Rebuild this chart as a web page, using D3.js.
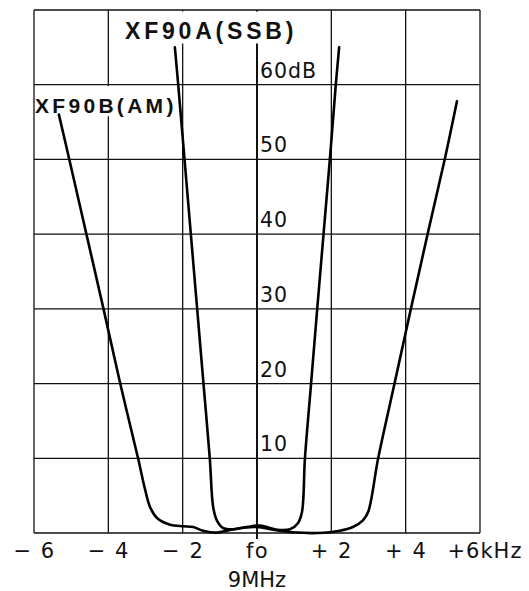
<!DOCTYPE html>
<html>
<head>
<meta charset="utf-8">
<script src="https://cdn.jsdelivr.net/npm/d3@7"></script>
<style>
  html, body { margin: 0; padding: 0; background: #fff; }
  svg { display: block; }
</style>
</head>
<body>
<script>
// ---- data ----
const xTickValues = [-6, -4, -2, 0, 2, 4, 6];
const xTickLabels = ["\u2212 6", "\u2212 4", "\u2212 2", "fo", "+ 2", "+ 4", "+6kHz"];
const yTickValues = [10, 20, 30, 40, 50, 60];
const yTickLabels = ["10", "20", "30", "40", "50", "60dB"];
const gridY = [0, 10, 20, 30, 40, 50, 60, 70];

const seriesNames = ["XF90A(SSB)", "XF90B(AM)"];
const ssbFreq = [-2.21, -2.12, -1.95, -1.78, -1.61, -1.44, -1.27, -1.18, -1.08, -0.92, -0.65, -0.27, 0.08, 0.4, 0.62, 0.89, 1.10, 1.21, 1.29, 1.455, 1.62, 1.79, 1.96, 2.12, 2.21];
const ssbAtten = [65, 60, 50, 40, 30, 20, 10, 3.5, 1.7, 0.7, 0.5, 0.8, 1.0, 0.6, 0.4, 0.5, 1.3, 2.8, 10, 20, 30, 40, 50, 60, 65];
const amFreq = [-5.33, -5.05, -4.59, -4.13, -3.68, -3.20, -3.01, -2.88, -2.69, -2.34, -1.99, -1.72, -1.45, -1.08, -0.73, -0.38, 0, 0.48, 0.97, 1.62, 2.23, 2.58, 2.85, 2.99, 3.26, 3.70, 4.14, 4.59, 5.05, 5.38];
const amAtten = [56, 50, 40, 30, 20, 10, 5.8, 3.5, 2.0, 1.1, 0.9, 0.8, 0.3, 0.05, 0.4, 0.7, 0.8, 0.4, 0.1, 0, 0.3, 0.8, 1.7, 2.8, 10, 20, 30, 40, 50, 57.8];

// ---- layout ----
const W = 529, H = 591;
const mLeft = 34, mRight = 480, mTop = 10, mBottom = 533;

const x = d3.scaleLinear().domain([-6, 6]).range([mLeft, mRight]);
const y = d3.scaleLinear().domain([0, 70]).range([mBottom, mTop]);

const svg = d3.select("body").append("svg")
  .attr("width", W).attr("height", H)
  .style("background", "#fff");

// grid
const grid = svg.append("g").attr("stroke", "#111").attr("stroke-width", 1.3);
grid.selectAll("line.h").data(gridY).join("line")
  .attr("class", "h")
  .attr("x1", mLeft).attr("x2", mRight)
  .attr("y1", d => y(d)).attr("y2", d => y(d));
grid.selectAll("line.v").data(xTickValues).join("line")
  .attr("class", "v")
  .attr("x1", d => x(d)).attr("x2", d => x(d))
  .attr("y1", mTop).attr("y2", d => d === 0 ? mBottom + 6 : mBottom)
  .attr("stroke-width", d => d === 0 ? 2 : 1.3);

// label background boxes (hide grid under curve labels)
svg.append("rect").attr("x", x(-4) + 6).attr("y", mTop + 1.5)
  .attr("width", 192).attr("height", 32).attr("fill", "#fff");
svg.append("rect").attr("x", mLeft + 1).attr("y", y(60) + 1.5)
  .attr("width", 142).attr("height", 30).attr("fill", "#fff");

// y-axis labels along fo line
svg.append("g").selectAll("text").data(yTickValues).join("text")
  .attr("x", x(0) + 3)
  .attr("y", d => y(d) - 7)
  .attr("font-family", "DejaVu Sans, sans-serif")
  .attr("font-size", 20.5)
  .attr("letter-spacing", 1)
  .attr("fill", "#111")
  .text((d, i) => yTickLabels[i]);

// x-axis labels
const xAxis = d3.axisBottom(x)
  .tickValues(xTickValues)
  .tickSize(0)
  .tickPadding(0)
  .tickFormat((d, i) => xTickLabels[i]);
const gx = svg.append("g").attr("transform", `translate(0,${mBottom})`).call(xAxis);
gx.select(".domain").remove();
gx.selectAll("text")
  .attr("y", 25)
  .attr("dy", 0)
  .attr("font-family", "DejaVu Sans, sans-serif")
  .attr("font-size", 21)
  .attr("letter-spacing", 1.5)
  .attr("fill", "#111");
gx.selectAll(".tick").filter(d => d === 6).select("text")
  .attr("text-anchor", "start").attr("x", -33).attr("letter-spacing", 1);

svg.append("text")
  .attr("x", x(0)).attr("y", 587)
  .attr("text-anchor", "middle")
  .attr("font-family", "DejaVu Sans, sans-serif")
  .attr("font-size", 21)
  .attr("fill", "#111")
  .text("9MHz");

// curve name labels
svg.append("text")
  .attr("x", 125).attr("y", 39)
  .attr("font-family", "Liberation Sans, Arial, sans-serif")
  .attr("font-weight", "bold")
  .attr("font-size", 23)
  .attr("letter-spacing", 3.8)
  .attr("fill", "#111")
  .text(seriesNames[0]);
svg.append("text")
  .attr("x", 35).attr("y", 113)
  .attr("font-family", "Liberation Sans, Arial, sans-serif")
  .attr("font-weight", "bold")
  .attr("font-size", 21)
  .attr("letter-spacing", 3.3)
  .attr("fill", "#111")
  .text(seriesNames[1]);

// curves
const line = d3.line()
  .x(d => x(d[0])).y(d => y(d[1]))
  .curve(d3.curveCatmullRom.alpha(0.5));

const ssb = ssbFreq.map((f, i) => [f, ssbAtten[i]]);
const am = amFreq.map((f, i) => [f, amAtten[i]]);

svg.append("path").datum(am)
  .attr("d", line).attr("fill", "none")
  .attr("stroke", "#000").attr("stroke-width", 2.6)
  .attr("stroke-linejoin", "round").attr("stroke-linecap", "round");
svg.append("path").datum(ssb)
  .attr("d", line).attr("fill", "none")
  .attr("stroke", "#000").attr("stroke-width", 2.6)
  .attr("stroke-linejoin", "round").attr("stroke-linecap", "round");
</script>
</body>
</html>
